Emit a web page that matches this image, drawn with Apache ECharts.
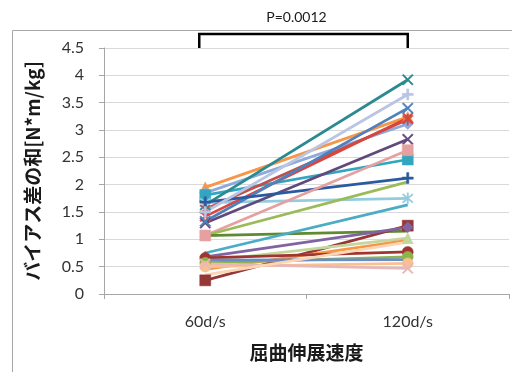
<!DOCTYPE html>
<html><head><meta charset="utf-8">
<script src="https://cdn.jsdelivr.net/npm/echarts@6/dist/echarts.min.js"></script>
<style>html,body{margin:0;padding:0;background:#fff}#c{width:512px;height:372px}</style>
</head><body><div id="c"></div>
<script>
const categories = ['60d/s', '120d/s'];
const yTicks = [0, 0.5, 1, 1.5, 2, 2.5, 3, 3.5, 4, 4.5];
// each subject's value at 60d/s and 120d/s
const at60  = [1.95, 1.85, 1.81, 1.63, 1.67, 1.55, 1.42, 1.30, 1.33, 1.68, 1.07, 1.07, 1.07, 0.75, 0.25, 0.68, 0.60, 0.45, 0.66, 0.57, 0.62, 0.50, 0.55, 0.35, 1.50];
const at120 = [3.24, 3.11, 2.46, 3.92, 1.75, 3.19, 3.22, 2.83, 3.40, 2.12, 2.63, 2.05, 1.15, 1.63, 1.25, 1.22, 1.02, 0.98, 0.77, 0.68, 0.63, 0.56, 0.47, 0.95, 3.65];
const pText = 'P=0.0012';

const colors = ['#F79646','#8EA9DB','#31A6C0','#2A8A90','#93CDDD','#C0504D','#D9453F','#604A7B','#4F81BD','#2C5AA0','#E6A0A0','#9BBB59','#5F8A30','#4BACC6','#953735','#8064A2','#C3D69B','#F79646','#A0342F','#8DB44B','#6A8CC8','#FAC090','#E6B9B8','#FCD5B5','#B9C5E3'];
const X = 'path://M1,0L5,4L9,0L10,1L6,5L10,9L9,10L5,6L1,10L0,9L4,5L0,1Z';
const PLUS = 'path://M4,0H6V4H10V6H6V10H4V6H0V4H4Z';
const STAR = 'path://M1,0L5,4L9,0L10,1L6,5L10,9L9,10L5,6L1,10L0,9L4,5L0,1Z M4.4,-1H5.6V11H4.4Z';
const markers = ['triangle','diamond','rect',X,STAR,STAR,X,X,X,PLUS,'rect','none','none','none','rect','diamond','triangle','none','circle','circle','none','circle',X,'none',PLUS];

const chart = echarts.init(document.getElementById('c'));
const series = at60.map((v, i) => ({
  type: 'line',
  data: [v, at120[i]],
  symbol: markers[i],
  symbolSize: 11,
  showSymbol: markers[i] !== 'none',
  lineStyle: { color: colors[i], width: 2.75 },
  itemStyle: { color: colors[i], borderColor: colors[i], borderWidth: 0.5 },
  animation: false,
  z: 2
}));

chart.setOption({
  animation: false,
  grid: { left: 104, right: 3, top: 48, bottom: 78 },
  xAxis: {
    type: 'category', data: categories, boundaryGap: true,
    axisLine: { lineStyle: { color: '#A6A6A6' } },
    axisTick: { show: true, length: 5, lineStyle: { color: '#A6A6A6' } },
    axisLabel: { fontFamily: 'Lato', fontSize: 16, color: '#333', margin: 20 },
    name: '屈曲伸展速度', nameLocation: 'middle', nameGap: 49,
    nameTextStyle: { fontFamily: 'Noto Sans CJK JP', fontWeight: 'bold', fontSize: 19, color: '#1a1a1a' }
  },
  yAxis: {
    type: 'value', min: yTicks[0], max: yTicks[yTicks.length - 1], interval: 0.5,
    axisLine: { show: true, lineStyle: { color: '#A6A6A6' } },
    axisTick: { show: true, length: 5, lineStyle: { color: '#A6A6A6' } },
    splitLine: { lineStyle: { color: '#D9D9D9', width: 1 } },
    axisLabel: { fontFamily: 'Lato', fontSize: 16, color: '#333', margin: 20 },
    name: 'バイアス差の和[N*m/kg]', nameLocation: 'middle', nameGap: 62,
    nameTextStyle: { fontFamily: 'Noto Sans CJK JP', fontWeight: 'bold', fontSize: 19, color: '#1a1a1a' }
  },
  series: series
});

const xa = chart.convertToPixel({ xAxisIndex: 0 }, categories[0]) - 6;
const xb = chart.convertToPixel({ xAxisIndex: 0 }, categories[1]);
const yTop = chart.convertToPixel({ yAxisIndex: 0 }, yTicks[yTicks.length - 1]);
chart.setOption({
  graphic: [
    { type: 'rect', shape: { x: 12.5, y: 30.5, width: 600, height: 400 }, style: { fill: 'none', stroke: '#A6A6A6', lineWidth: 1 }, silent: true, z: -1 },
    { type: 'polyline', shape: { points: [[xa, yTop], [xa, yTop - 14], [xb, yTop - 14], [xb, yTop]] }, style: { fill: 'none', stroke: '#000', lineWidth: 2.5 }, z: 10 },
    { type: 'text', style: { text: pText, x: (xa + xb) / 2 - 7, y: 17, align: 'center', verticalAlign: 'middle', font: '14px Lato', fill: '#1a1a1a' }, z: 10 }
  ]
});
</script></body></html>
